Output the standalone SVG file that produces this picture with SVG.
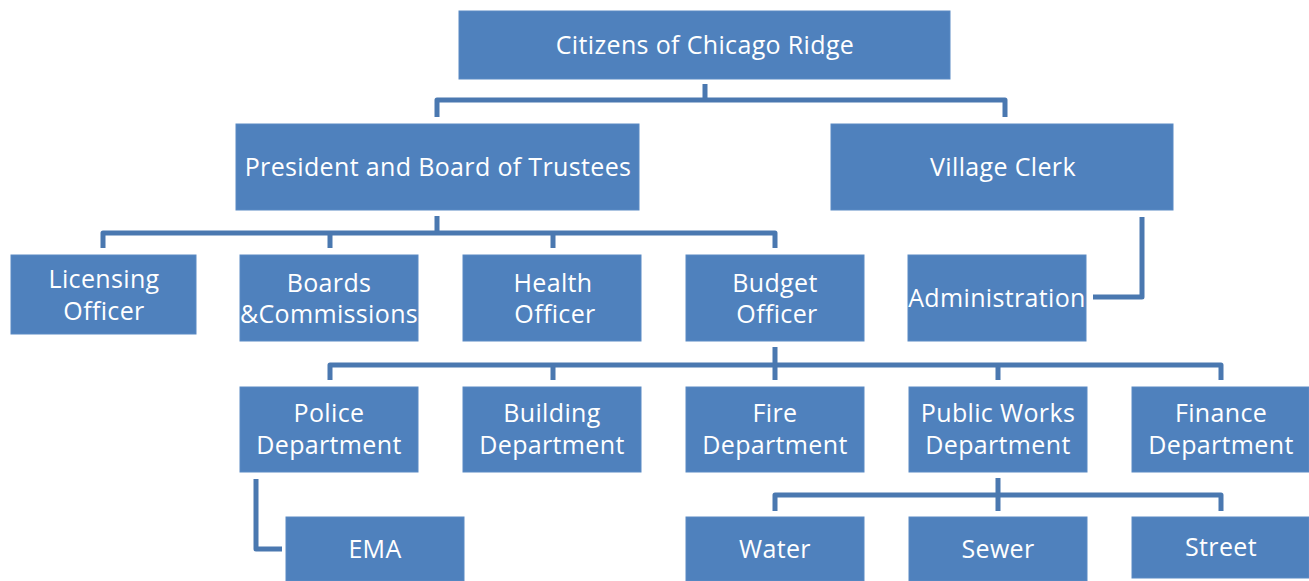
<svg xmlns="http://www.w3.org/2000/svg" width="1309" height="581" viewBox="0 0 1309 581">
<style>
.box{fill:#4F81BD;stroke:#5A8AC4;stroke-width:1}
.t{font-family:"Open Sans","Liberation Sans",sans-serif;font-size:25px;letter-spacing:0.35px;fill:#fff;text-anchor:middle}
.c{fill:none;stroke:#4A78B0;stroke-width:5;stroke-linejoin:round}
</style>
<rect width="1309" height="581" fill="#fff"/>
<g id="connectors">
<path class="c" d="M705 84V100M437 117V100H1005V117"/>
<path class="c" d="M437 216V233M103 248V233H775V248M330 233V248M553 233V248"/>
<path class="c" d="M1142 217V297H1093"/>
<path class="c" d="M775 347V365M330 380V365H1221V380M553 365V380M775 365V380M998 365V380"/>
<path class="c" d="M256 479V549H282"/>
<path class="c" d="M998 478V495M775 511V495H1221V511M998 495V511"/>
</g>
<g id="citizens"><rect class="box" x="459" y="11" width="491" height="68"/><text class="t" x="705" y="54">Citizens of Chicago Ridge</text></g>
<g id="president"><rect class="box" x="236" y="124" width="403" height="86"/><text class="t" x="438" y="176">President and Board of Trustees</text></g>
<g id="clerk"><rect class="box" x="831" y="124" width="342" height="86"/><text class="t" x="1003" y="176">Village Clerk</text></g>
<g id="licensing"><rect class="box" x="11" y="255" width="185" height="79"/><text class="t" x="104" y="288">Licensing</text><text class="t" x="104" y="320">Officer</text></g>
<g id="boards"><rect class="box" x="240" y="255" width="178" height="86"/><text class="t" x="329" y="292">Boards</text><text class="t" x="329" y="323">&amp;Commissions</text></g>
<g id="health"><rect class="box" x="463" y="255" width="178" height="86"/><text class="t" x="553" y="292">Health</text><text class="t" x="555" y="323">Officer</text></g>
<g id="budget"><rect class="box" x="686" y="255" width="178" height="86"/><text class="t" x="775" y="292">Budget</text><text class="t" x="777" y="323">Officer</text></g>
<g id="administration"><rect class="box" x="908" y="255" width="178" height="86"/><text class="t" x="997" y="307">Administration</text></g>
<g id="police"><rect class="box" x="240" y="387" width="178" height="85"/><text class="t" x="329" y="422">Police</text><text class="t" x="329" y="454">Department</text></g>
<g id="building"><rect class="box" x="463" y="387" width="178" height="85"/><text class="t" x="552" y="422">Building</text><text class="t" x="552" y="454">Department</text></g>
<g id="fire"><rect class="box" x="686" y="387" width="178" height="85"/><text class="t" x="775" y="422">Fire</text><text class="t" x="775" y="454">Department</text></g>
<g id="publicworks"><rect class="box" x="909" y="387" width="178" height="85"/><text class="t" x="998" y="422">Public Works</text><text class="t" x="998" y="454">Department</text></g>
<g id="finance"><rect class="box" x="1132" y="387" width="177" height="85"/><text class="t" x="1221" y="422">Finance</text><text class="t" x="1221" y="454">Department</text></g>
<g id="ema"><rect class="box" x="286" y="517" width="178" height="64"/><text class="t" x="375" y="558">EMA</text></g>
<g id="water"><rect class="box" x="686" y="517" width="178" height="64"/><text class="t" x="775" y="558">Water</text></g>
<g id="sewer"><rect class="box" x="909" y="517" width="178" height="64"/><text class="t" x="998" y="558">Sewer</text></g>
<g id="street"><rect class="box" x="1132" y="517" width="177" height="61"/><text class="t" x="1221" y="556">Street</text></g>
</svg>
